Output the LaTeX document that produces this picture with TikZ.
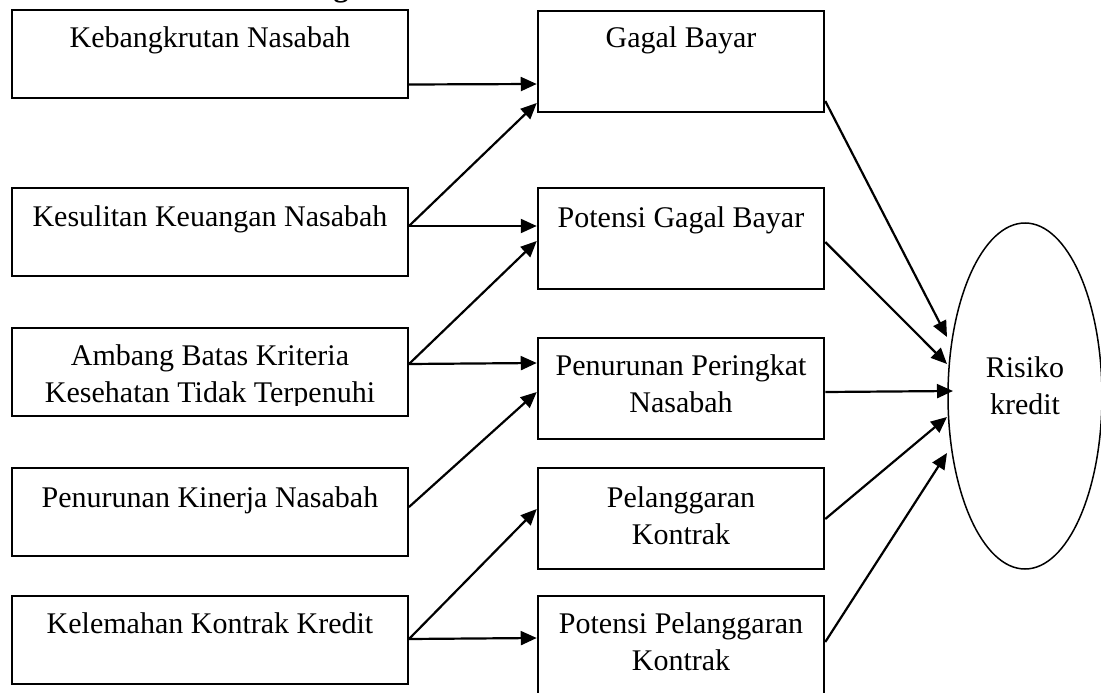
\documentclass[tikz,border=0pt]{standalone}
\usepackage{fontspec}
\setmainfont{Liberation Serif}
\usetikzlibrary{arrows.meta,shapes.geometric}

% first-line baseline box for centred (multi-line) labels
\newcommand{\boxtext}[1]{\parbox[t]{360pt}{\centering #1}}

\begin{document}
\begin{tikzpicture}[x=1pt,y=-1pt,
  cause/.style={draw, line width=2pt, inner sep=0pt, minimum width=396pt, minimum height=88pt},
  effect/.style={draw, line width=2pt, inner sep=0pt, minimum width=286.5pt, minimum height=101pt},
  risk/.style={draw, ellipse, line width=1.5pt, inner sep=0pt, minimum width=154pt, minimum height=346pt},
  label/.style={anchor=base, inner sep=0pt, font=\fontsize{30}{37.5}\selectfont},
  link/.style={line width=2.2pt, -{Triangle[length=16pt,width=14pt]}}]

\useasboundingbox (0,0) rectangle (1101,693);

% tail of the heading above the chart
\begin{scope}
  \clip (0,0) rectangle (1101,693);
  \node[label, font=\fontsize{30}{36}\selectfont\bfseries] (head) at (341,-3.5) {g};
\end{scope}

% causes (left column)
\node[cause] (k1) at (210,54)  {};
\node[cause] (k2) at (210,232) {};
\node[cause] (k3) at (210,372) {};
\node[cause] (k4) at (210,512) {};
\node[cause] (k5) at (210,640) {};

% events (middle column)
\node[effect] (g1) at (681,61.5)  {};
\node[effect] (g2) at (681,238.5) {};
\node[effect] (g3) at (681,388.5) {};
\node[effect] (g4) at (681,518.5) {};
\node[effect] (g5) at (681,646.5) {};

% outcome
\node[risk] (R) at (1025,396) {};

% labels
\node[label] (k1t) at (210,48)  {\boxtext{Kebangkrutan Nasabah}};
\node[label] (k2t) at (210,226) {\boxtext{Kesulitan Keuangan Nasabah}};
\begin{scope}
  \clip (12,329) rectangle (407,405.5);
  \node[label] (k3t) at (210,365) {\boxtext{Ambang Batas Kriteria\\Kesehatan Tidak Terpenuhi}};
\end{scope}
\node[label] (k4t) at (210,507) {\boxtext{Penurunan Kinerja Nasabah}};
\node[label] (k5t) at (210,633) {\boxtext{Kelemahan Kontrak Kredit}};

\node[label] (g1t) at (681,48)  {\boxtext{Gagal Bayar}};
\node[label] (g2t) at (681,227) {\boxtext{Potensi Gagal Bayar}};
\node[label] (g3t) at (681,375) {\boxtext{Penurunan Peringkat\\Nasabah}};
\node[label] (g4t) at (681,507) {\boxtext{Pelanggaran\\Kontrak}};
\node[label] (g5t) at (681,633) {\boxtext{Potensi Pelanggaran\\Kontrak}};

\node[label] (Rt) at (1025,377) {\boxtext{Risiko\\kredit}};

% causes -> events
\draw[link] ([yshift=-30.5pt]k1.east) -- ([yshift=-22.5pt]g1.west);
\draw[link] ([yshift=6pt]k2.east)     -- ([yshift=-41.5pt]g1.west);
\draw[link] ([yshift=6pt]k2.east)     -- ([yshift=12.5pt]g2.west);
\draw[link] ([yshift=8pt]k3.east)     -- ([yshift=-2.5pt]g2.west);
\draw[link] ([yshift=8pt]k3.east)     -- ([yshift=25.5pt]g3.west);
\draw[link] ([yshift=5pt]k4.east)     -- ([yshift=-3.5pt]g3.west);
\draw[link] ([yshift=1pt]k5.east)     -- ([yshift=9.5pt]g4.west);
\draw[link] ([yshift=1pt]k5.east)     -- ([yshift=8.5pt]g5.west);

% events -> risk
\draw[link] ([yshift=-39.5pt]g1.east) -- ([xshift=-78pt,yshift=59pt]R.center);
\draw[link] ([yshift=-3.5pt]g2.east)  -- ([xshift=-78pt,yshift=32pt]R.center);
\draw[link] ([yshift=-3.5pt]g3.east)  -- ([xshift=-72pt,yshift=5pt]R.center);
\draw[link] ([yshift=-0.5pt]g4.east)  -- ([xshift=-78pt,yshift=-21pt]R.center);
\draw[link] ([yshift=4.5pt]g5.east)   -- ([xshift=-78pt,yshift=-57pt]R.center);

\end{tikzpicture}
\end{document}
